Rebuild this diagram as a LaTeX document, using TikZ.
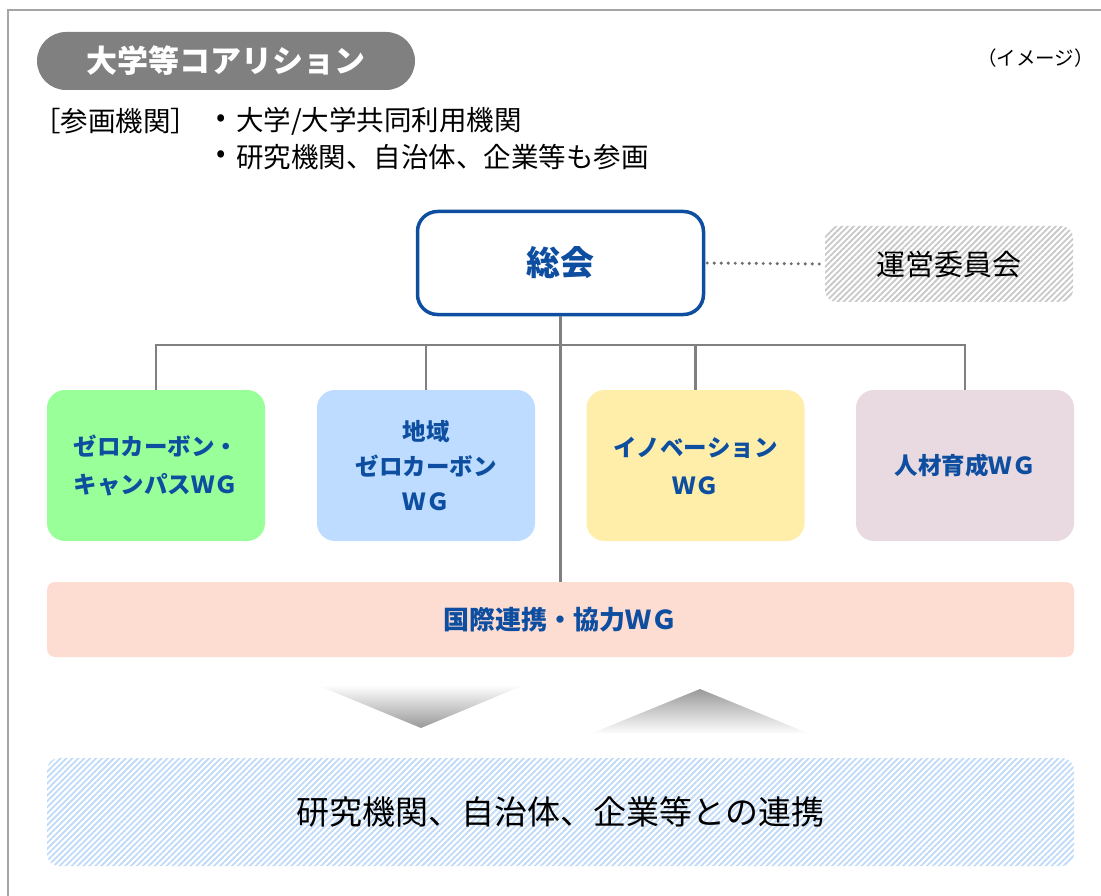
\documentclass[tikz,border=0pt]{standalone}
\usepackage{fontspec}
\newfontfamily\jp{Noto Sans CJK JP}
\usetikzlibrary{patterns.meta}
\definecolor{framegray}{RGB}{165,165,165}
\definecolor{linegray}{RGB}{128,128,128}
\definecolor{dotgray}{RGB}{110,110,110}
\definecolor{pillgray}{RGB}{128,128,128}
\definecolor{navy}{RGB}{14,78,160}
\definecolor{wggreen}{RGB}{153,255,153}
\definecolor{wgblue}{RGB}{189,220,255}
\definecolor{wgyellow}{RGB}{255,238,170}
\definecolor{wgpink}{RGB}{232,218,224}
\definecolor{kokusai}{RGB}{253,220,210}
\definecolor{hatchgray}{RGB}{200,200,200}
\definecolor{hatchblue}{RGB}{190,218,248}
\begin{document}
\begin{tikzpicture}[x=1pt,y=-1pt,
  every node/.style={font=\jp, inner sep=0pt},
  pill/.style={fill=pillgray, rounded corners=29pt, minimum width=378pt, minimum height=58pt, text=white, font=\jp\bfseries\fontsize{31}{36}\selectfont},
  plain/.style={font=\jp\fontsize{27.5}{32}\selectfont, text=black},
  wgbox/.style={rounded corners=18pt, minimum width=218pt, minimum height=151pt, align=center, text=navy, font=\jp\bfseries\fontsize{23.5}{38}\selectfont},
  conn/.style={draw=linegray, line width=2.5pt},
  hatch/.style={pattern={Lines[angle=45,distance=4.2pt,line width=1.8pt]}},
]
\useasboundingbox (0,0) rectangle (1101,896);
\draw[framegray, line width=1.6pt] (8,896) -- (8,10) -- (1101,10);

\node[pill] (title) at (226,61) {大学等コアリション};
\node[anchor=east, font=\jp\fontsize{19.5}{24}\selectfont] (image) at (1094,58) {（イメージ）};

\node[plain, anchor=west] (sanka) at (33,121) {［参画機関］};
\node[plain] (d1) at (221,121) {•};
\node[plain, anchor=west] (b1) at (236,121) {大学/大学共同利用機関};
\node[plain] (d2) at (221,157) {•};
\node[plain, anchor=west] (b2) at (236,157) {研究機関、自治体、企業等も参画};

\node[draw=navy, line width=3.5pt, rounded corners=20pt, minimum width=286pt, minimum height=103pt, text=navy, font=\jp\bfseries\fontsize{34}{40}\selectfont] (soukai) at (560.5,263) {総会};

\node[hatch, pattern color=hatchgray, rounded corners=12pt, minimum width=248pt, minimum height=76pt, font=\jp\fontsize{29}{34}\selectfont] (unei) at (949,264) {運営委員会};

\draw[dotgray, line width=3.4pt, line cap=round, dash pattern=on 0pt off 7pt] ([xshift=2pt]soukai.east) -- ([xshift=-1pt]unei.west);

\node[wgbox, fill=wggreen] (wg1) at (156,465.5) {ゼロカーボン・\\キャンパスＷＧ};
\node[wgbox, fill=wgblue, font=\jp\bfseries\fontsize{23.5}{35}\selectfont] (wg2) at (426,465.5) {地域\\ゼロカーボン\\ＷＧ};
\node[wgbox, fill=wgyellow] (wg3) at (695.5,465.5) {イノベーション\\ＷＧ};
\node[wgbox, fill=wgpink] (wg4) at (965,465.5) {人材育成ＷＧ};

\node[fill=kokusai, rounded corners=8pt, minimum width=1027pt, minimum height=75pt, text=navy, font=\jp\bfseries\fontsize{26}{30}\selectfont] (kokusai) at (560.5,619.5) {国際連携・協力ＷＧ};

\coordinate (bus) at (0,345);
\draw[conn] (soukai.south) -- (kokusai.north);
\draw[conn] (wg1.north) -- (wg1.north |- bus) -- (wg4.north |- bus) -- (wg4.north);
\draw[conn] (wg2.north) -- (wg2.north |- bus);
\draw[conn] (wg3.north) -- (wg3.north |- bus);

\shade[top color=white, bottom color=black!40] (317,685) -- (524,685) -- (421,728) -- cycle;
\shade[top color=black!40, bottom color=white] (700,689) -- (810,734) -- (590,734) -- cycle;

\node[hatch, pattern color=hatchblue, rounded corners=12pt, minimum width=1027pt, minimum height=108pt, font=\jp\fontsize{33}{38}\selectfont] (renkei) at (560.5,812) {研究機関、自治体、企業等との連携};
\end{tikzpicture}
\end{document}
